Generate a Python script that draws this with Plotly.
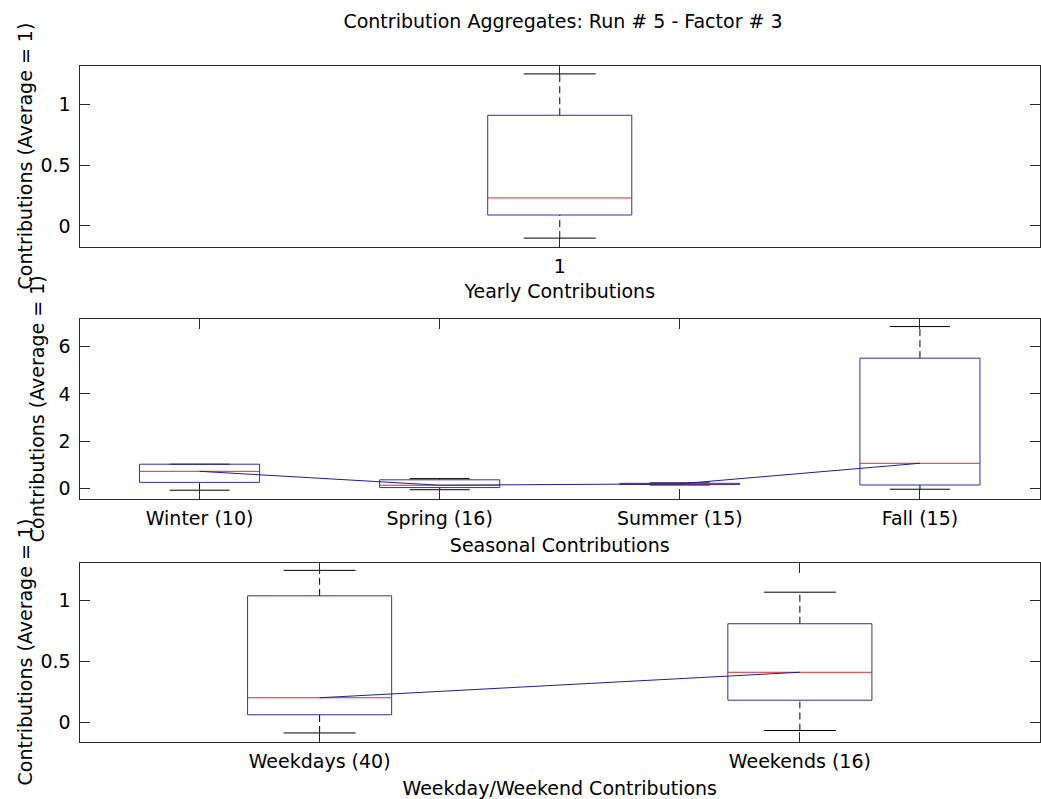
import plotly.graph_objects as go

# ---------------- data ----------------
yearly_labels = ["1"]
yearly_lower = [-0.10]
yearly_q1 = [0.09]
yearly_median = [0.23]
yearly_q3 = [0.91]
yearly_upper = [1.25]

season_labels = ["Winter (10)", "Spring (16)", "Summer (15)", "Fall (15)"]
season_lower = [-0.08, -0.06, 0.14, -0.04]
season_q1 = [0.25, 0.03, 0.16, 0.14]
season_median = [0.72, 0.13, 0.19, 1.06]
season_q3 = [1.02, 0.36, 0.21, 5.51]
season_upper = [1.02, 0.41, 0.23, 6.85]

week_labels = ["Weekdays (40)", "Weekends (16)"]
week_lower = [-0.09, -0.07]
week_q1 = [0.06, 0.18]
week_median = [0.20, 0.41]
week_q3 = [1.04, 0.81]
week_upper = [1.25, 1.07]

# ---------------- style ----------------
FONT = "DejaVu Sans"
FS = 19
BOX_BLUE = "#2e2eae"
MEDIAN_RED = "#e02828"
LINK_BLUE = "#1c1c9c"
AXIS_GREY = "#2a2a2a"
W, H = 1041, 799


def px_x(p):
    return p / W


def px_y(p):
    return 1 - p / H


fig = go.Figure()


def add_panel(idx, labels, lower, q1, med, q3, upper, box_w):
    xa = "x" if idx == 1 else f"x{idx}"
    ya = "y" if idx == 1 else f"y{idx}"
    pos = list(range(1, len(labels) + 1))
    half = box_w / 2
    cap = box_w / 4

    # dashed whiskers
    wx, wy = [], []
    for p, lo, a, b, hi in zip(pos, lower, q1, q3, upper):
        wx += [p, p, None, p, p, None]
        wy += [b, hi, None, lo, a, None]
    fig.add_trace(go.Scatter(x=wx, y=wy, mode="lines", xaxis=xa, yaxis=ya,
                             line=dict(color="black", width=1, dash="7px,4px"),
                             hoverinfo="skip"))

    # whisker caps
    cx, cy = [], []
    for p, lo, hi in zip(pos, lower, upper):
        cx += [p - cap, p + cap, None, p - cap, p + cap, None]
        cy += [hi, hi, None, lo, lo, None]
    fig.add_trace(go.Scatter(x=cx, y=cy, mode="lines", xaxis=xa, yaxis=ya,
                             line=dict(color="black", width=1),
                             hoverinfo="skip"))

    # boxes
    bx, by = [], []
    for p, a, b in zip(pos, q1, q3):
        bx += [p - half, p + half, p + half, p - half, p - half, None]
        by += [a, a, b, b, a, None]
    fig.add_trace(go.Scatter(x=bx, y=by, mode="lines", xaxis=xa, yaxis=ya,
                             line=dict(color=BOX_BLUE, width=1),
                             hoverinfo="skip"))

    # medians
    mx, my = [], []
    for p, m in zip(pos, med):
        mx += [p - half, p + half, None]
        my += [m, m, None]
    fig.add_trace(go.Scatter(x=mx, y=my, mode="lines", xaxis=xa, yaxis=ya,
                             line=dict(color=MEDIAN_RED, width=1),
                             hoverinfo="skip"))

    # line joining the medians
    fig.add_trace(go.Scatter(x=pos, y=med, mode="lines", xaxis=xa, yaxis=ya,
                             line=dict(color=LINK_BLUE, width=1),
                             hoverinfo="skip"))
    return pos


pos1 = add_panel(1, yearly_labels, yearly_lower, yearly_q1, yearly_median,
                 yearly_q3, yearly_upper, 0.15)
pos2 = add_panel(2, season_labels, season_lower, season_q1, season_median,
                 season_q3, season_upper, 0.5)
pos3 = add_panel(3, week_labels, week_lower, week_q1, week_median,
                 week_q3, week_upper, 0.3)

text_font = dict(family=FONT, size=FS, color="black")
common = dict(showline=True, linecolor=AXIS_GREY, linewidth=1, mirror="allticks",
              ticks="inside", ticklen=10, tickcolor=AXIS_GREY, tickwidth=1,
              showgrid=False, zeroline=False, tickfont=text_font)

x_dom = [px_x(79.5), px_x(1040)]
dom_top = [px_y(247), px_y(66)]
dom_mid = [px_y(499.3), px_y(319)]
dom_bot = [px_y(742.3), px_y(562.7)]
ytitle = "Contributions (Average = 1)"

# rotated y-axis titles, one per panel (left offsets differ with tick-label width)
ytitle_spots = [(24, dom_top), (37, dom_mid), (24, dom_bot)]
annotations = [
    dict(text=ytitle, textangle=-90, showarrow=False, font=text_font,
         xref="paper", yref="paper", x=px_x(xc), y=(d[0] + d[1]) / 2,
         xanchor="center", yanchor="middle")
    for xc, d in ytitle_spots
]

fig.update_layout(
    width=W, height=799,
    margin=dict(l=0, r=0, t=0, b=0),
    paper_bgcolor="white", plot_bgcolor="white",
    showlegend=False,
    font=text_font,
    annotations=annotations,
    title=dict(text="Contribution Aggregates: Run # 5 - Factor # 3",
               x=px_x(563), xanchor="center", xref="paper",
               y=px_y(21), yanchor="middle", yref="container",
               font=text_font),
    xaxis=dict(common, domain=x_dom, anchor="y", range=[0.5, 1.5],
               tickmode="array", tickvals=pos1, ticktext=yearly_labels,
               ticklabelstandoff=2,
               title=dict(text="Yearly Contributions", standoff=8, font=text_font)),
    yaxis=dict(common, domain=dom_top, anchor="x",
               range=[-0.173, 1.315], tickmode="array", tickvals=[0, 0.5, 1],
               ticklabelstandoff=4),
    xaxis2=dict(common, domain=x_dom, anchor="y2", range=[0.5, 4.5],
                tickmode="array", tickvals=pos2, ticktext=season_labels,
                ticklabelstandoff=2,
                title=dict(text="Seasonal Contributions", standoff=10, font=text_font)),
    yaxis2=dict(common, domain=dom_mid, anchor="x2",
                range=[-0.466, 7.17], tickmode="array", tickvals=[0, 2, 4, 6],
                ticklabelstandoff=4),
    xaxis3=dict(common, domain=x_dom, anchor="y3", range=[0.5, 2.5],
                tickmode="array", tickvals=pos3, ticktext=week_labels,
                ticklabelstandoff=2,
                title=dict(text="Weekday/Weekend Contributions", standoff=10,
                           font=text_font)),
    yaxis3=dict(common, domain=dom_bot, anchor="x3",
                range=[-0.167, 1.313], tickmode="array", tickvals=[0, 0.5, 1],
                ticklabelstandoff=4),
)

fig.write_html("out.html")
